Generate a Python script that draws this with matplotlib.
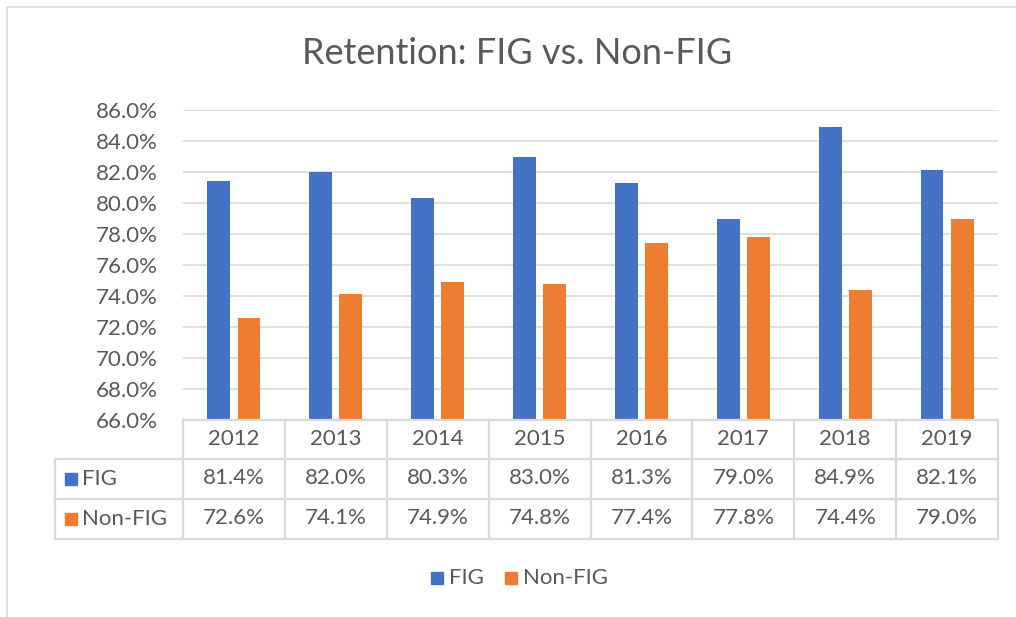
import matplotlib.pyplot as plt
from matplotlib.patches import Rectangle
from matplotlib.lines import Line2D

years = ['2012', '2013', '2014', '2015', '2016', '2017', '2018', '2019']
fig_vals = [81.4, 82.0, 80.3, 83.0, 81.3, 79.0, 84.9, 82.1]
nonfig_vals = [72.6, 74.1, 74.9, 74.8, 77.4, 77.8, 74.4, 79.0]
series_names = ['FIG', 'Non-FIG']
yticks = [66, 68, 70, 72, 74, 76, 78, 80, 82, 84, 86]

blue = '#4472C4'
orange = '#ED7D31'
txt = '#595959'
grid = '#D9D9D9'
fs = 16

plt.rcParams['font.family'] = ['Lato', 'DejaVu Sans']

W, H = 1016, 617
fig = plt.figure(figsize=(W / 100, H / 100), dpi=100)


def fx(px):
    return px / W


def fy(py):
    return 1 - py / H


# outer chart border
fig.patches.append(Rectangle((fx(7), fy(640)), fx(1030) - fx(7), fy(7) - fy(640),
                             transform=fig.transFigure, fill=False,
                             edgecolor=grid, lw=1.2))

x0, x1, ytop, ybot = 183, 998, 110, 420
ax = fig.add_axes([fx(x0), fy(ybot), fx(x1) - fx(x0), fy(ytop) - fy(ybot)])

idx = list(range(len(years)))
bw = 0.225
off = 0.148
ax.bar([i - off for i in idx], fig_vals, bw, color=blue, zorder=3)
ax.bar([i + off for i in idx], nonfig_vals, bw, color=orange, zorder=3)
ax.set_xlim(-0.5, len(years) - 0.5)
ax.set_ylim(66, 86)
ax.set_yticks(yticks)
ax.set_yticklabels([f'{v:.1f}%' for v in yticks], color=txt, fontsize=fs)
ax.tick_params(axis='y', length=0, pad=18)
ax.set_xticks([])
ax.grid(axis='y', color=grid, lw=1.2, zorder=0)
for s in ax.spines.values():
    s.set_visible(False)

fig.text(fx(517), fy(53), 'Retention: FIG vs. Non-FIG', ha='center', va='center',
         fontsize=26, color=txt)

# data table
rows = [420, 459, 499, 539]
colw = (x1 - x0) / len(years)


def hline(xa, xb, y):
    fig.add_artist(Line2D([fx(xa), fx(xb)], [fy(y), fy(y)], color=grid, lw=1.6,
                          transform=fig.transFigure))


def vline(x, ya, yb):
    fig.add_artist(Line2D([fx(x), fx(x)], [fy(ya), fy(yb)], color=grid, lw=1.6,
                          transform=fig.transFigure))


hline(x0, x1, rows[0])
for r in rows[1:]:
    hline(55, x1, r)
vline(55, rows[1], rows[3])
for i in range(len(years) + 1):
    vline(x0 + i * colw, rows[0], rows[3])

for i, yr in enumerate(years):
    cx = x0 + (i + 0.5) * colw
    fig.text(fx(cx), fy(439), yr, ha='center', va='center', fontsize=fs, color=txt)
    fig.text(fx(cx), fy(478), f'{fig_vals[i]:.1f}%', ha='center', va='center',
             fontsize=fs, color=txt)
    fig.text(fx(cx), fy(518), f'{nonfig_vals[i]:.1f}%', ha='center', va='center',
             fontsize=fs, color=txt)

for name, col, yc in [(series_names[0], blue, 479), (series_names[1], orange, 519)]:
    fig.patches.append(Rectangle((fx(65), fy(yc + 6)), fx(12), fy(0) - fy(12),
                                 transform=fig.transFigure, color=col))
    fig.text(fx(82), fy(yc), name, ha='left', va='center', fontsize=fs, color=txt)

# legend
for name, col, xs in [(series_names[0], blue, 431), (series_names[1], orange, 505)]:
    fig.patches.append(Rectangle((fx(xs), fy(584)), fx(12), fy(0) - fy(12),
                                 transform=fig.transFigure, color=col))
    fig.text(fx(xs + 18), fy(578), name, ha='left', va='center', fontsize=fs, color=txt)

fig.savefig('out.png', dpi=100)
